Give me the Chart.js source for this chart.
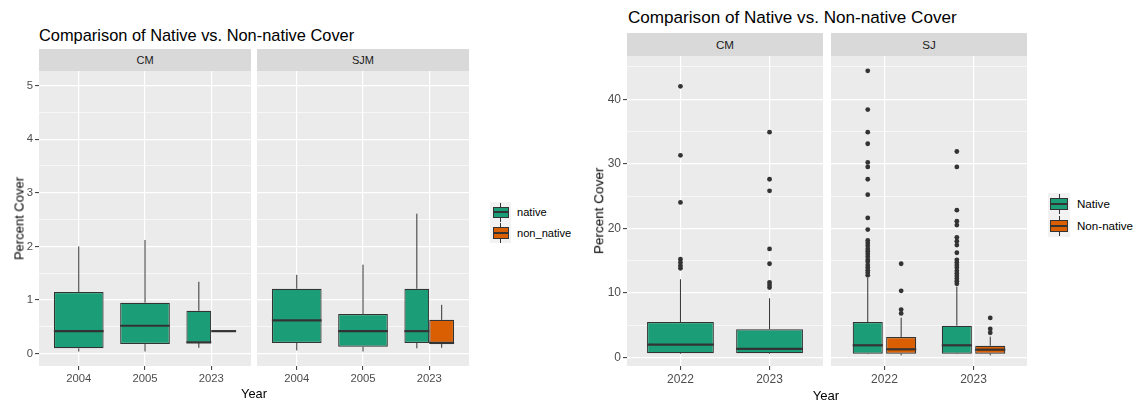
<!DOCTYPE html>
<html>
<head>
<meta charset="utf-8">
<script src="https://cdn.jsdelivr.net/npm/chart.js@4.4.1/dist/chart.umd.min.js"></script>
<style>
  body { margin: 0; background: #ffffff; }
  #page { position: relative; width: 1136px; height: 405px; overflow: hidden; background: #ffffff;
          font-family: "Liberation Sans", Arial, sans-serif; }
  #page canvas { position: absolute; }
  .txt { position: absolute; white-space: nowrap; }
  .strip { position: absolute; background: #D9D9D9; color: #1A1A1A; display: flex;
           align-items: center; justify-content: center; }
  .keybg { position: absolute; background: #F2F2F2; }
  .keybox { position: absolute; box-sizing: border-box; border: 1px solid #333333; }
  .line { position: absolute; background: #333333; }
</style>
</head>
<body>
<div id="page"></div>
<script>
// ---- Figure A: 2004 / 2005 / 2023 surveys ----
// box statistics per year: [lower whisker, Q1, median, Q3, upper whisker]
const yearsA = ['2004', '2005', '2023'];
const cmNativeA = [[0.04, 0.10, 0.42, 1.15, 2.00], [0.04, 0.18, 0.52, 0.95, 2.12], [0.11, 0.20, 0.21, 0.80, 1.34]];
const cmNonNativeA = [null, null, [0.42, 0.42, 0.42, 0.42, 0.42]];
const sjmNativeA = [[0.06, 0.20, 0.62, 1.21, 1.47], [0.04, 0.13, 0.42, 0.74, 1.66], [0.10, 0.20, 0.42, 1.21, 2.61]];
const sjmNonNativeA = [null, null, [0.11, 0.20, 0.20, 0.63, 0.91]];
const yMajorA = [0, 1, 2, 3, 4, 5];
const yMinorA = [0.5, 1.5, 2.5, 3.5, 4.5];

// ---- Figure B: 2022 / 2023 surveys ----
const yearsB = ['2022', '2023'];
const cmNativeB = [[0.50, 0.62, 1.95, 5.47, 12.1], [0.50, 0.62, 1.29, 4.34, 9.15]];
const cmNativeOutB = [
  [42.0, 31.3, 24.0, 15.2, 14.7, 14.2, 13.8],
  [34.9, 27.6, 25.8, 16.8, 14.5, 11.6, 11.2, 10.8]
];
const sjNativeB = [[0.50, 0.56, 1.86, 5.47, 12.3], [0.50, 0.56, 1.86, 4.90, 10.95]];
const sjNativeOutB = [
  [44.4, 38.4, 34.9, 33.1, 30.2, 29.5, 27.6, 25.2, 21.6, 19.8, 18.1, 17.7, 17.3, 16.8, 16.4,
   16.0, 15.6, 15.1, 14.8, 14.3, 13.9, 13.5, 13.1, 12.7],
  [31.9, 29.5, 22.8, 21.1, 20.5, 18.6, 18.0, 17.4, 16.2, 15.1, 14.7, 14.3, 13.9, 13.4, 13.0,
   12.6, 12.2, 11.8, 11.4]
];
const sjNonNativeB = [[0.30, 0.56, 1.24, 3.15, 6.14], [0.30, 0.56, 1.18, 1.80, 3.20]];
const sjNonNativeOutB = [[14.5, 10.3, 7.4, 6.8], [6.1, 4.4, 3.8]];
const yMajorB = [0, 10, 20, 30, 40];
const yMinorB = [5, 15, 25, 35, 45];

const NATIVE = '#1B9E77';
const NON_NATIVE = '#D95F02';
const INK = '#333333';
const FONT = '"Liberation Sans", Arial, sans-serif';
Chart.defaults.font.family = FONT;

const page = document.getElementById('page');

function addText(text, x, baseline, size, opts = {}) {
  const d = document.createElement('div');
  d.className = 'txt';
  d.textContent = text;
  d.style.fontSize = size + 'px';
  d.style.lineHeight = size + 'px';
  d.style.color = opts.color || '#000000';
  d.style.top = (baseline - 0.8465 * size) + 'px';
  if (opts.center) {
    d.style.left = (x - 150) + 'px';
    d.style.width = '300px';
    d.style.textAlign = 'center';
  } else {
    d.style.left = x + 'px';
  }
  if (opts.rotate) {
    // vertical title: x is the baseline column, baseline arg is the vertical centre
    d.style.left = (x - 0.3465 * size - 150) + 'px';
    d.style.top = (baseline - size / 2) + 'px';
    d.style.width = '300px';
    d.style.textAlign = 'center';
    d.style.transform = 'rotate(-90deg)';
  }
  page.appendChild(d);
}

function addStrip(label, x, y, w, h, size) {
  const d = document.createElement('div');
  d.className = 'strip';
  Object.assign(d.style, { left: x + 'px', top: y + 'px', width: w + 'px', height: h + 'px', fontSize: size + 'px' });
  d.textContent = label;
  page.appendChild(d);
}

function addLegend(x, y, keyW, keyH, boxW, items, size, textX) {
  const bg = document.createElement('div');
  bg.className = 'keybg';
  Object.assign(bg.style, { left: x + 'px', top: y + 'px', width: keyW + 'px', height: (keyH * items.length) + 'px' });
  page.appendChild(bg);
  items.forEach((it, i) => {
    const top = y + i * keyH;
    const bTop = top + keyH * 0.22, bH = keyH * 0.56;
    const cx = x + keyW / 2;
    const w1 = document.createElement('div');
    w1.className = 'line';
    Object.assign(w1.style, { left: (cx - 0.5) + 'px', top: (top + keyH * 0.03) + 'px', width: '1px', height: (keyH * 0.94) + 'px' });
    page.appendChild(w1);
    const b = document.createElement('div');
    b.className = 'keybox';
    Object.assign(b.style, { left: (cx - boxW / 2) + 'px', top: bTop + 'px', width: boxW + 'px', height: bH + 'px', background: it.color });
    page.appendChild(b);
    const m = document.createElement('div');
    m.className = 'line';
    Object.assign(m.style, { left: (cx - boxW / 2) + 'px', top: (top + keyH / 2 - 1) + 'px', width: boxW + 'px', height: '2px' });
    page.appendChild(m);
    addText(it.label, textX, top + keyH / 2 + size * 0.36, size);
  });
}

// Paints the panel background and draws whiskers and medians for each box
const boxPlotPlugin = {
  id: 'boxPlotPlugin',
  beforeDraw(chart) {
    const { ctx, chartArea: a } = chart;
    ctx.save();
    ctx.fillStyle = '#EBEBEB';
    ctx.fillRect(a.left, a.top, a.right - a.left, a.bottom - a.top);
    ctx.restore();
  },
  afterDatasetsDraw(chart) {
    const { ctx } = chart;
    const ys = chart.scales.y;
    chart.data.datasets.forEach((ds, di) => {
      if (!ds.stats) return;
      const meta = chart.getDatasetMeta(di);
      meta.data.forEach((bar, j) => {
        const s = ds.stats[j];
        if (!s) return;
        const { x, width } = bar.getProps(['x', 'width'], true);
        ctx.save();
        ctx.strokeStyle = INK;
        ctx.lineWidth = 1;
        ctx.beginPath();
        ctx.moveTo(x, ys.getPixelForValue(s[3]));
        ctx.lineTo(x, ys.getPixelForValue(s[4]));
        ctx.moveTo(x, ys.getPixelForValue(s[1]));
        ctx.lineTo(x, ys.getPixelForValue(s[0]));
        ctx.stroke();
        ctx.lineWidth = 2.2;
        ctx.beginPath();
        const my = ys.getPixelForValue(s[2]);
        ctx.moveTo(x - width / 2, my);
        ctx.lineTo(x + width / 2, my);
        ctx.stroke();
        ctx.restore();
      });
    });
  }
};

function buildPanel(cfg) {
  const canvas = document.createElement('canvas');
  canvas.width = cfg.w;
  canvas.height = cfg.h;
  canvas.style.left = cfg.x + 'px';
  canvas.style.top = cfg.y + 'px';
  page.appendChild(canvas);

  const n = cfg.years.length;
  const groupsAt = cfg.years.map((_, i) => cfg.groups.filter(g => g.stats[i]).length);
  const catPct = 0.75;
  const datasets = [];
  cfg.groups.forEach(g => {
    datasets.push({
      type: 'bar',
      label: g.name,
      stats: g.stats,
      data: g.stats.map((s, i) => ({ x: i + 1, y: s ? [s[1], s[3]] : null })),
      backgroundColor: g.color,
      borderColor: INK,
      borderWidth: 1.2,
      borderSkipped: false,
      categoryPercentage: catPct,
      barPercentage: cfg.barPct,
      skipNull: true
    });
  });
  cfg.groups.forEach((g, gi) => {
    if (!g.out) return;
    const pts = [];
    g.out.forEach((vals, i) => {
      const shift = groupsAt[i] > 1 ? (gi === 0 ? -1 : 1) * catPct / 4 : 0;
      vals.forEach(v => pts.push({ x: i + 1 + shift, y: v }));
    });
    datasets.push({
      type: 'scatter',
      label: g.name + ' outliers',
      data: pts,
      pointRadius: 2.4,
      pointBackgroundColor: INK,
      pointBorderWidth: 0,
      pointHoverRadius: 0
    });
  });

  const allY = cfg.yMajor.concat(cfg.yMinor).sort((a, b) => a - b);
  const isMajor = v => cfg.yMajor.includes(v);

  new Chart(canvas, {
    type: 'bar',
    data: { datasets },
    plugins: [boxPlotPlugin],
    options: {
      responsive: false,
      maintainAspectRatio: false,
      animation: false,
      events: [],
      layout: { padding: 0, autoPadding: false },
      plugins: { legend: { display: false }, tooltip: { enabled: false }, title: { display: false } },
      scales: {
        x: {
          type: 'linear',
          min: 0.4,
          max: n + 0.6,
          offset: false,
          afterBuildTicks: s => { s.ticks = cfg.years.map((_, i) => ({ value: i + 1 })); },
          afterFit: s => { s.height = cfg.xh; s.paddingLeft = 0; s.paddingRight = 0; },
          ticks: {
            autoSkip: false, maxRotation: 0, padding: cfg.xPad,
            color: '#4D4D4D', font: { size: cfg.tickFont },
            callback: v => cfg.years[v - 1]
          },
          grid: { offset: false, color: '#FFFFFF', lineWidth: 1.2, drawTicks: true,
                  tickLength: 4, tickColor: INK, tickWidth: 1 },
          border: { display: false }
        },
        y: {
          type: 'linear',
          min: cfg.yMin,
          max: cfg.yMax,
          afterBuildTicks: s => { s.ticks = allY.map(v => ({ value: v })); },
          afterFit: s => { s.width = cfg.yw; s.paddingTop = 0; s.paddingBottom = 0; },
          ticks: {
            display: cfg.showY, autoSkip: false, padding: 2,
            color: '#4D4D4D', font: { size: cfg.tickFont },
            callback: v => (isMajor(v) ? String(v) : '')
          },
          grid: {
            color: '#FFFFFF',
            lineWidth: c => (c.tick && isMajor(c.tick.value) ? 1.2 : 0.6),
            drawTicks: cfg.showY,
            tickLength: 4,
            tickWidth: 1,
            tickColor: c => (c.tick && isMajor(c.tick.value) ? INK : 'rgba(0,0,0,0)')
          },
          border: { display: false }
        }
      }
    }
  });
}

// ---------- Figure A ----------
addText('Comparison of Native vs. Non-native Cover', 39, 40.5, 16.4);
addStrip('CM', 39, 49, 212, 22, 11);
addStrip('SJM', 257, 49, 212, 22, 11);
const panelA = { y: 71, h: 319, xh: 24, xPad: 2, tickFont: 11.3, barPct: 1,
                 years: yearsA, yMin: -0.23, yMax: 5.27, yMajor: yMajorA, yMinor: yMinorA };
buildPanel(Object.assign({}, panelA, { x: 0, w: 251, yw: 39, showY: true,
  groups: [{ name: 'native', color: NATIVE, stats: cmNativeA },
           { name: 'non_native', color: NON_NATIVE, stats: cmNonNativeA }] }));
buildPanel(Object.assign({}, panelA, { x: 257, w: 212, yw: 0, showY: false,
  groups: [{ name: 'native', color: NATIVE, stats: sjmNativeA },
           { name: 'non_native', color: NON_NATIVE, stats: sjmNonNativeA }] }));
addText('Percent Cover', 23.3, 218.5, 13, { rotate: true });
addText('Year', 254, 399, 12.8, { center: true });
addLegend(490, 202, 21, 20.7, 16, [
  { label: 'native', color: NATIVE },
  { label: 'non_native', color: NON_NATIVE }
], 11.1, 517);

// ---------- Figure B ----------
addText('Comparison of Native vs. Non-native Cover', 628, 23.5, 17.1);
addStrip('CM', 627, 33, 196, 23, 11.6);
addStrip('SJ', 831, 33, 196, 23, 11.6);
const panelB = { y: 56, h: 334, xh: 24, xPad: 2, tickFont: 12, years: yearsB,
                 yMin: -1.35, yMax: 46.7, yMajor: yMajorB, yMinor: yMinorB };
buildPanel(Object.assign({}, panelB, { x: 587, w: 236, yw: 40, showY: true, barPct: 1,
  groups: [{ name: 'Native', color: NATIVE, stats: cmNativeB, out: cmNativeOutB }] }));
buildPanel(Object.assign({}, panelB, { x: 831, w: 196, yw: 0, showY: false, barPct: 0.9,
  groups: [{ name: 'Native', color: NATIVE, stats: sjNativeB, out: sjNativeOutB },
           { name: 'Non-native', color: NON_NATIVE, stats: sjNonNativeB, out: sjNonNativeOutB }] }));
addText('Percent Cover', 603.3, 211, 13.5, { rotate: true });
addText('Year', 826, 400, 13.1, { center: true });
addLegend(1048, 193, 22, 22, 18.3, [
  { label: 'Native', color: NATIVE },
  { label: 'Non-native', color: NON_NATIVE }
], 11.6, 1077);
</script>
</body>
</html>
